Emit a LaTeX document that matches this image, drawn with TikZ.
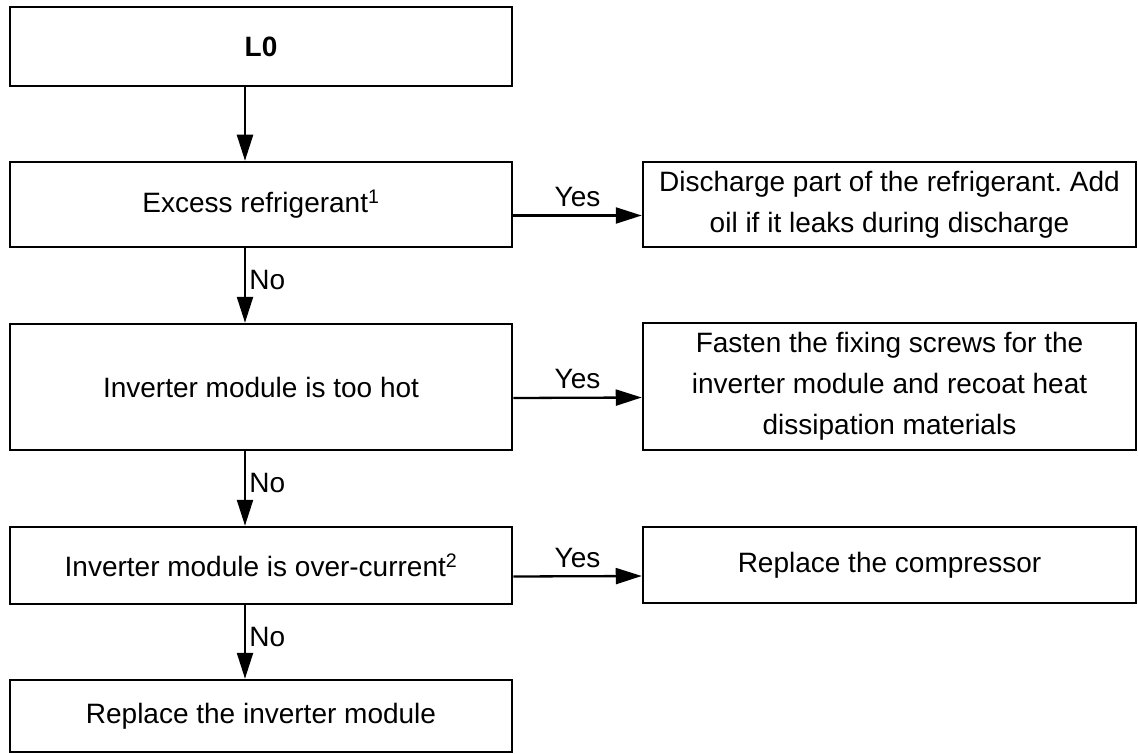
\documentclass[tikz,border=0pt]{standalone}
\usepackage{fontspec}
\setmainfont{Liberation Sans}
\usetikzlibrary{arrows.meta,positioning,calc}
\frenchspacing

\begin{document}
\begin{tikzpicture}[x=1pt,y=-1pt,
  font=\fontsize{28}{41}\selectfont,
  check/.style={draw,line width=2.5pt,minimum width=502pt,align=center,inner sep=0pt},
  action/.style={draw,line width=2.5pt,minimum width=493pt,align=center,inner sep=0pt},
  flow/.style={line width=2.3pt,-{Triangle[length=26pt,width=16pt]}}]
  \useasboundingbox (0,0) rectangle (1138,754);
  % left column
  \node[check,minimum height=79pt] (l0) at (261,46.5) {\bfseries L0};
  \node[check,minimum height=85pt] (excess) at (261,204.5) {Excess refrigerant\textsuperscript{1}};
  \node[check,minimum height=126pt] (hot) at (261,387) {Inverter module is too hot};
  \node[check,minimum height=77pt] (overcur) at (261,565.5) {Inverter module is over-current\textsuperscript{2}};
  \node[check,minimum height=72pt] (replinv) at (261,716) {Replace the inverter module};
  % right column
  \node[action,minimum height=85pt] (discharge) at (889.5,204.5) {Discharge part of the refrigerant. Add\\oil if it leaks during discharge};
  \node[action,minimum height=127pt] (fasten) at (889.5,386.5) {Fasten the fixing screws for the\\inverter module and recoat heat\\dissipation materials};
  \node[action,minimum height=76pt] (replcomp) at (889.5,565) {Replace the compressor};
  \coordinate (ax) at (245,0);
  \draw[flow] (l0.south -| ax) -- (excess.north -| ax);
  \draw[flow] (excess.south -| ax) -- (hot.north -| ax) node[pos=0.43,right]{No};
  \draw[flow] (hot.south -| ax) -- (overcur.north -| ax) node[pos=0.43,right]{No};
  \draw[flow] (overcur.south -| ax) -- (replinv.north -| ax) node[pos=0.43,right]{No};
  \draw[flow] ([yshift=-11pt]excess.east) -- ([yshift=-11pt]discharge.west) node[midway,above=4pt]{Yes};
  \draw[flow] ([yshift=-11pt]hot.east) -- ([yshift=-11pt]fasten.west) node[midway,above=4pt]{Yes};
  \draw[flow] ([yshift=-11pt]overcur.east) -- ([yshift=-11pt]replcomp.west) node[midway,above=4pt]{Yes};
\end{tikzpicture}
\end{document}
